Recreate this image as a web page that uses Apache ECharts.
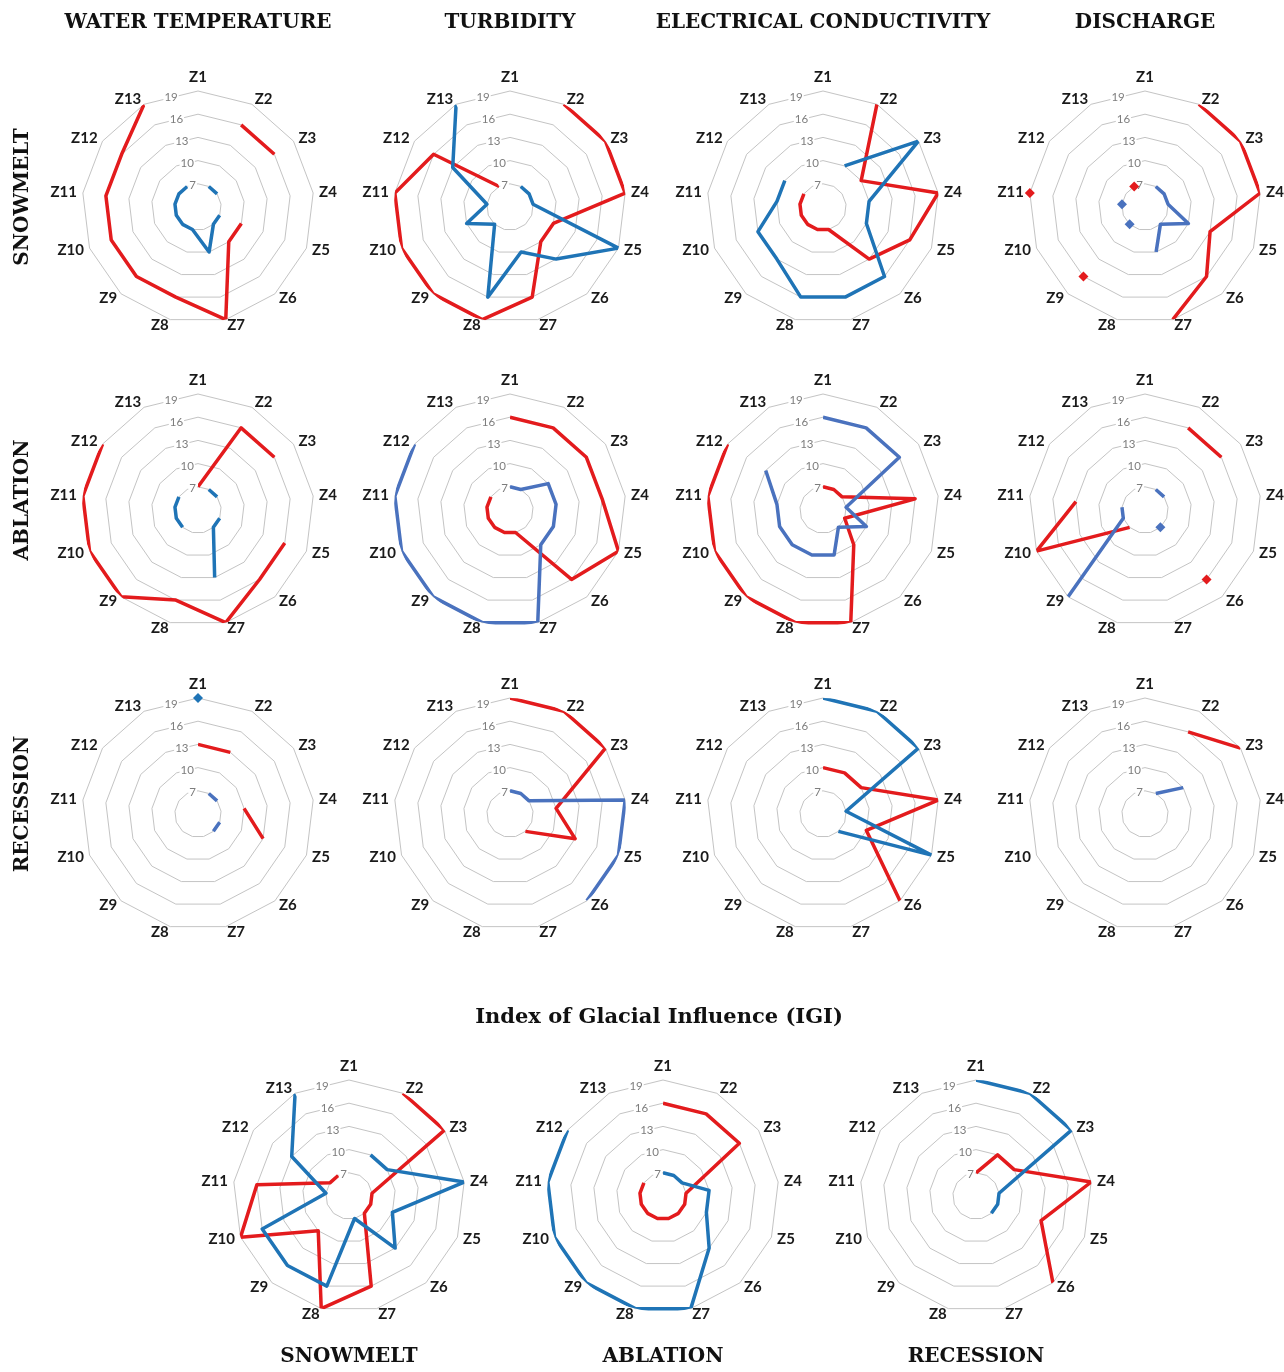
<!DOCTYPE html>
<html>
<head>
<meta charset="utf-8">
<script src="https://cdn.jsdelivr.net/npm/echarts@6/dist/echarts.min.js"></script>
<style>
  html, body { margin: 0; padding: 0; background: #ffffff; }
  #chart { width: 1284px; height: 1372px; }
</style>
</head>
<body>
<div id="chart"></div>
<script>
// ---- categories and labels ----
const zones = ['Z1', 'Z2', 'Z3', 'Z4', 'Z5', 'Z6', 'Z7', 'Z8', 'Z9', 'Z10', 'Z11', 'Z12', 'Z13'];
const ringTicks = [7, 10, 13, 16, 19];
const columnTitles = ['WATER TEMPERATURE', 'TURBIDITY', 'ELECTRICAL CONDUCTIVITY', 'DISCHARGE'];
const seasonTitles = ['SNOWMELT', 'ABLATION', 'RECESSION'];
const igiTitle = 'Index of Glacial Influence (IGI)';

// ---- series values, Z1..Z13 (null = no value) ----
// Snowmelt
const wtSnowRed   = [null, 16, 16, null, 10, 10, 19, 16, 16, 16, 16, 16, 19];
const wtSnowBlue  = [null, 7, 7, null, 7, 7, 10, 7, 7, 7, 7, 7, 7];
const turSnowRed  = [null, 19, 19, 19, 10, 10, 16, 19, 19, 19, 19, 16, 7];
const turSnowBlue = [null, 7, 7, 7, 19, 13, 10, 16, 7, 10, 7, 13, 19];
const ecSnowRed   = [null, 19, 10, 19, 16, 13, 7, 7, 7, 7, 7, 7, null];
const ecSnowBlue  = [null, 10, 19, 10, 10, 16, 16, 16, 13, 13, 10, 10, null];
const qSnowRed    = [null, 19, 19, 19, 13, 16, 19, null, 16, null, 19, null, 7];
const qSnowBlue   = [null, 7, 7, 7, 10, 7, 10, null, 7, null, 7, null, null];
// Ablation
const wtAblRed    = [7, 16, 16, null, 16, 16, 19, 16, 19, 19, 19, 19, null];
const wtAblBlue   = [null, 7, 7, null, 7, 7, 13, null, 7, 7, 7, 7, null];
const turAblRed   = [16, 16, 16, 16, 19, 16, 7, 7, 7, 7, 7, 7, null];
const turAblBlue  = [7, 7, 10, 10, 10, 10, 19, 19, 19, 19, 19, 19, null];
const ecAblRed    = [7, 7, 7, 16, 7, 10, 19, 19, 19, 19, 19, 19, null];
const ecAblBlue   = [16, 16, 16, 7, 10, 7, 10, 10, 10, 10, 10, 13, null];
const qAblRed     = [null, 16, 16, null, null, 16, null, null, 7, 19, 13, null, null];
const qAblBlue    = [null, 7, 7, null, null, 7, null, null, 19, 7, 7, null, null];
// Recession
const wtRecRed    = [13, 13, null, 10, 13, null, null, null, null, null, null, null, null];
const wtRecBlue   = [null, 7, 7, null, 7, 7, null, null, null, null, null, null, null];
const wtRecBlueZ1 = [19, null, null, null, null, null, null, null, null, null, null, null, null];
const turRecRed   = [19, 19, 19, 10, 13, 7, null, null, null, null, null, null, null];
const turRecBlue  = [7, 7, 7, 19, 19, 19, null, null, null, null, null, null, null];
const ecRecRed    = [10, 10, 10, 19, 10, 19, null, null, null, null, null, null, null];
const ecRecBlue   = [19, 19, 19, 7, 19, 7, null, null, null, null, null, null, null];
const qRecRed     = [null, 16, 19, null, null, null, null, null, null, null, null, null, null];
const qRecBlue    = [null, 7, 10, null, null, null, null, null, null, null, null, null, null];
// Index of Glacial Influence
const igiSnowRed  = [null, 19, 19, 7, 7, 7, 16, 19, 10, 19, 16, 7, 7];
const igiSnowBlue = [null, 10, 10, 19, 10, 13, 7, 16, 16, 16, 7, 13, 19];
const igiAblRed   = [16, 16, 16, 7, 7, 7, 7, 7, 7, 7, 7, 7, null];
const igiAblBlue  = [7, 7, 7, 10, 10, 13, 19, 19, 19, 19, 19, 19, null];
const igiRecRed   = [7, 10, 10, 19, 13, 19, null, null, null, null, null, null, null];
const igiRecBlue  = [19, 19, 19, 7, 7, 7, null, null, null, null, null, null, null];

// ---- layout and styles ----
const RED = '#e31b1d';
const BLUE = '#1f74b6';
const SLATE = '#4a72be';
const R = 116;                       // outer ring radius in px
const colX = [198, 510, 823, 1145];
const rowY = [207, 510, 814];
const igiX = [349, 663, 976];
const igiY = 1196;

const panels = [
  { x: colX[0], y: rowY[0], lines: [[wtSnowRed, RED],  [wtSnowBlue, BLUE]] },
  { x: colX[1], y: rowY[0], lines: [[turSnowRed, RED], [turSnowBlue, BLUE]] },
  { x: colX[2], y: rowY[0], lines: [[ecSnowRed, RED],  [ecSnowBlue, BLUE]] },
  { x: colX[3], y: rowY[0], lines: [[qSnowRed, RED],   [qSnowBlue, SLATE]] },
  { x: colX[0], y: rowY[1], lines: [[wtAblRed, RED],   [wtAblBlue, BLUE]] },
  { x: colX[1], y: rowY[1], lines: [[turAblRed, RED],  [turAblBlue, SLATE]] },
  { x: colX[2], y: rowY[1], lines: [[ecAblRed, RED],   [ecAblBlue, SLATE]] },
  { x: colX[3], y: rowY[1], lines: [[qAblRed, RED],    [qAblBlue, SLATE]] },
  { x: colX[0], y: rowY[2], lines: [[wtRecRed, RED],   [wtRecBlue, SLATE], [wtRecBlueZ1, BLUE]] },
  { x: colX[1], y: rowY[2], lines: [[turRecRed, RED],  [turRecBlue, SLATE]] },
  { x: colX[2], y: rowY[2], lines: [[ecRecRed, RED],   [ecRecBlue, BLUE]] },
  { x: colX[3], y: rowY[2], lines: [[qRecRed, RED],    [qRecBlue, SLATE]] },
  { x: igiX[0], y: igiY,    lines: [[igiSnowRed, RED], [igiSnowBlue, BLUE]] },
  { x: igiX[1], y: igiY,    lines: [[igiAblRed, RED],  [igiAblBlue, BLUE]] },
  { x: igiX[2], y: igiY,    lines: [[igiRecRed, RED],  [igiRecBlue, BLUE]] }
];

// radar indicators run counter-clockwise, so list them Z1, Z13, Z12 ... Z2
const indicatorOrder = [zones[0]].concat(zones.slice(1).reverse());

// a value with no neighbour on either side is drawn as a diamond marker
function toItems(values) {
  return values.map(function (v, i) {
    if (v == null) return null;
    const lone = values[i - 1] == null && values[i + 1] == null;
    return lone ? { value: v, symbol: 'diamond', symbolSize: 10 } : v;
  });
}

const radar = [], polar = [], angleAxis = [], radiusAxis = [], series = [];
const HALF_STEP = 180 / zones.length;

panels.forEach(function (p, k) {
  radar.push({
    center: [p.x, p.y],
    radius: R,
    startAngle: 90,
    shape: 'polygon',
    splitNumber: 5,
    indicator: indicatorOrder.map(function (name) { return { name: name, min: 4, max: 19 }; }),
    axisNameGap: 6,
    axisName: { color: '#1a1a1a', fontWeight: 'bold', fontSize: 15, fontFamily: 'Lato' },
    axisLine: { show: false },
    axisTick: { show: false },
    axisLabel: { show: false },
    splitArea: { show: false },
    splitLine: { lineStyle: { color: '#c4c4c4', width: 1 } }
  });

  // polar used for the data lines
  polar.push({ center: [p.x, p.y], radius: R });
  angleAxis.push({
    polarIndex: 2 * k, type: 'category', data: zones, boundaryGap: false,
    startAngle: 90, clockwise: true, show: false
  });
  radiusAxis.push({ polarIndex: 2 * k, min: 4, max: 19, show: false });

  // polar used for the ring labels, along the middle of the Z13-Z1 edge
  polar.push({ center: [p.x, p.y], radius: R * Math.cos(Math.PI / zones.length) });
  angleAxis.push({ polarIndex: 2 * k + 1, type: 'value', min: 0, max: 360, startAngle: 90 + HALF_STEP, show: false });
  radiusAxis.push({
    polarIndex: 2 * k + 1, min: 4, max: 19, interval: 3,
    axisLine: { show: false }, axisTick: { show: false }, splitLine: { show: false },
    axisLabel: {
      show: true, margin: 0, align: 'center', verticalAlign: 'middle', showMinLabel: false,
      color: '#7d7d7d', fontSize: 11.5, fontFamily: 'Lato',
      backgroundColor: '#ffffff', padding: [0, 1],
      formatter: function (v) { return ringTicks.indexOf(v) >= 0 ? String(v) : ''; }
    }
  });

  p.lines.forEach(function (pair) {
    series.push({
      type: 'line', coordinateSystem: 'polar', polarIndex: 2 * k,
      data: toItems(pair[0]), symbol: 'none', connectNulls: false, clip: false,
      lineStyle: { color: pair[1], width: 3.5, join: 'round' },
      itemStyle: { color: pair[1] },
      silent: true, z: 3
    });
  });
});

// ---- titles ----
const graphic = [];
const headFont = 'bold 20px "DejaVu Serif"';
columnTitles.forEach(function (t, i) {
  graphic.push({ type: 'text', x: colX[i], y: 23, style: { text: t, font: headFont, fill: '#111', align: 'center', verticalAlign: 'middle' } });
});
seasonTitles.forEach(function (t, i) {
  graphic.push({ type: 'text', x: 23, y: rowY[i] - 10, rotation: Math.PI / 2, style: { text: t, font: headFont, fill: '#111', align: 'center', verticalAlign: 'middle' } });
});
graphic.push({ type: 'text', x: 659, y: 1018, style: { text: igiTitle, font: 'bold 21px "DejaVu Serif"', fill: '#111', align: 'center', verticalAlign: 'middle' } });
seasonTitles.forEach(function (t, i) {
  graphic.push({ type: 'text', x: igiX[i], y: 1357, style: { text: t, font: headFont, fill: '#111', align: 'center', verticalAlign: 'middle' } });
});

const chart = echarts.init(document.getElementById('chart'), null, { renderer: 'canvas' });
chart.setOption({
  animation: false,
  backgroundColor: '#ffffff',
  radar: radar,
  polar: polar,
  angleAxis: angleAxis,
  radiusAxis: radiusAxis,
  series: series,
  graphic: graphic
});
</script>
</body>
</html>
